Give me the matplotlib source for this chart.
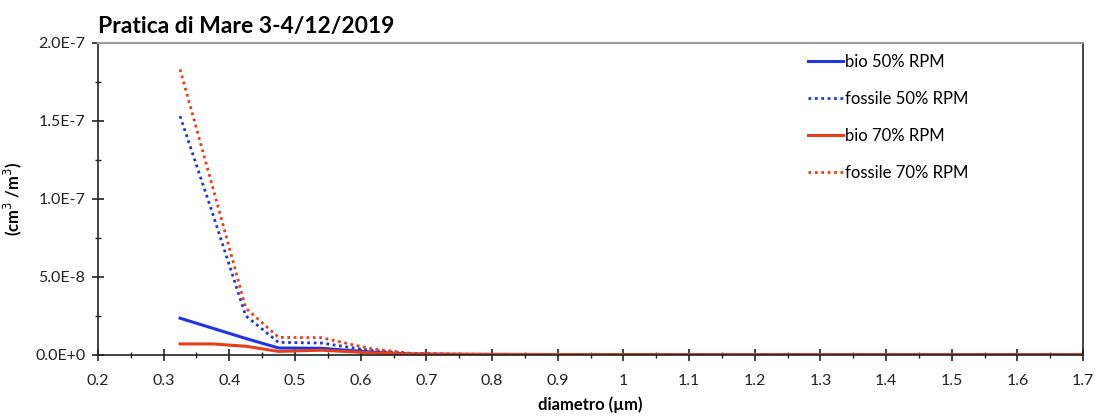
import matplotlib.pyplot as plt
from matplotlib.ticker import MultipleLocator, FixedLocator

plt.rcParams['font.family'] = ['Lato', 'DejaVu Sans']

# particle diameter (µm) and volume concentration (cm³/m³)
diam = [0.325, 0.375, 0.425, 0.475, 0.54, 0.615, 0.675, 0.75, 0.9, 1.15, 1.45, 1.7]
bio50 = [2.35e-8, 1.7e-8, 1.05e-8, 4.4e-9, 4.2e-9, 1.8e-9, 5e-10, 3e-10, 2e-10, 1e-10, 5e-11, 3e-11]
fos50 = [1.53e-7, 9.0e-8, 2.5e-8, 8.0e-9, 7.6e-9, 2.8e-9, 8e-10, 4e-10, 2e-10, 1e-10, 5e-11, 3e-11]
bio70 = [7.0e-9, 7.0e-9, 5.5e-9, 2.2e-9, 3.0e-9, 1.3e-9, 4e-10, 3e-10, 2e-10, 1e-10, 5e-11, 3e-11]
fos70 = [1.83e-7, 1.07e-7, 3.0e-8, 1.12e-8, 1.1e-8, 4.0e-9, 1.0e-9, 4e-10, 2e-10, 1e-10, 5e-11, 3e-11]

xticks = [0.2, 0.3, 0.4, 0.5, 0.6, 0.7, 0.8, 0.9, 1, 1.1, 1.2, 1.3, 1.4, 1.5, 1.6, 1.7]
xticklabels = ['0.2', '0.3', '0.4', '0.5', '0.6', '0.7', '0.8', '0.9', '1',
               '1.1', '1.2', '1.3', '1.4', '1.5', '1.6', '1.7']
yticks = [0, 5e-8, 1e-7, 1.5e-7, 2e-7]
yticklabels = ['0.0E+0', '5.0E-8', '1.0E-7', '1.5E-7', '2.0E-7']

blue = '#1f35e0'
red = '#e4401c'

fig = plt.figure(figsize=(11.01, 4.16), dpi=100)
ax = fig.add_axes([0.089, 0.147, 0.8947, 0.75])

ax.plot(diam, bio50, color=blue, lw=2.2, label='bio 50% RPM')
ax.plot(diam, fos50, color=blue, lw=2.0, ls=(0, (1, 1.3)), label='fossile 50% RPM')
ax.plot(diam, bio70, color=red, lw=2.2, label='bio 70% RPM')
ax.plot(diam, fos70, color=red, lw=2.0, ls=(0, (1, 1.3)), label='fossile 70% RPM')

ax.set_xlim(0.2, 1.7)
ax.set_ylim(0, 2e-7)
ax.xaxis.set_major_locator(FixedLocator(xticks))
ax.set_xticklabels(xticklabels)
ax.xaxis.set_minor_locator(MultipleLocator(0.05))
ax.yaxis.set_major_locator(FixedLocator(yticks))
ax.set_yticklabels(yticklabels)
ax.yaxis.set_minor_locator(MultipleLocator(2.5e-8))

ax.tick_params(axis='both', which='major', direction='inout', length=8, width=1.2,
               labelsize=11.5, color='#222222', labelcolor='#222222')
ax.tick_params(axis='both', which='minor', direction='inout', length=5, width=1, color='#222222')
ax.tick_params(axis='x', pad=10)
ax.tick_params(axis='y', pad=5)

for side in ('left', 'bottom', 'right'):
    ax.spines[side].set_color('#222222')
    ax.spines[side].set_linewidth(1.2)
ax.spines['top'].set_color('#999999')
ax.spines['top'].set_linewidth(1.5)

ax.set_xlabel('diametro (µm)', fontsize=12, fontweight='bold', labelpad=6)
ax.set_ylabel('(cm$^3$ /m$^3$)', fontsize=12, fontweight='bold', labelpad=8)
ax.set_title('Pratica di Mare 3-4/12/2019', fontsize=16.5, fontweight='bold', loc='left', x=0.0, pad=7)

leg = ax.legend(loc='upper left', bbox_to_anchor=(0.7127, 0.99), frameon=False, borderpad=0,
                fontsize=12, handlelength=2.1, handletextpad=0.1, labelspacing=1.25)

fig.savefig('out.png', dpi=100)
